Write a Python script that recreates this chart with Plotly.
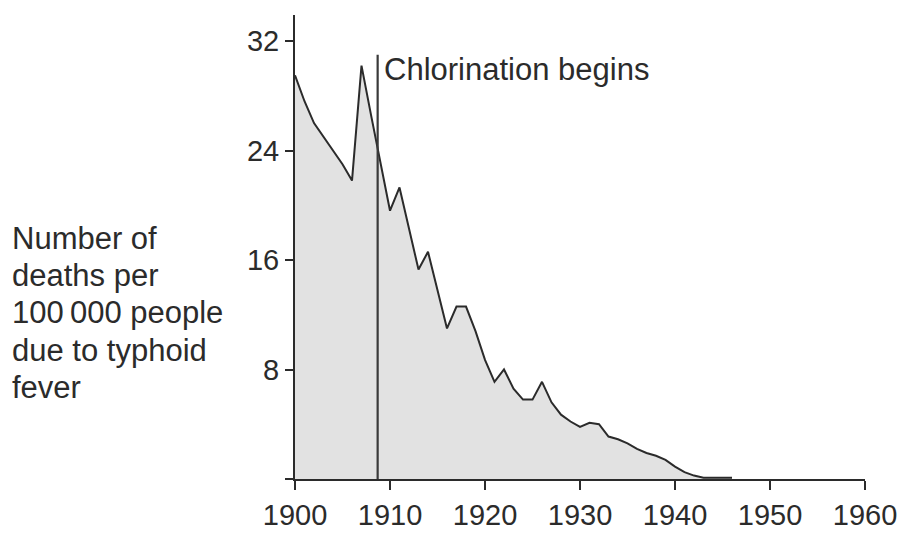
import plotly.graph_objects as go

years = list(range(1900, 1947))
deaths = [29.5, 27.6, 26.0, 25.0, 24.0, 23.0, 21.8, 30.2, 26.6, 23.2,
          19.6, 21.3, 18.3, 15.3, 16.6, 13.8, 11.0, 12.6, 12.6, 10.8,
          8.7, 7.1, 8.0, 6.6, 5.8, 5.8, 7.1, 5.6, 4.7, 4.2,
          3.8, 4.1, 4.0, 3.1, 2.9, 2.6, 2.2, 1.9, 1.7, 1.4,
          0.9, 0.5, 0.25, 0.1, 0.1, 0.1, 0.1]

x_ticks = [1900, 1910, 1920, 1930, 1940, 1950, 1960]
y_ticks = [0, 8, 16, 24, 32]
y_ticktext = ["", "8", "16", "24", "32"]

chlorination_year = 1908.7
chlorination_top = 31.0
y_label_lines = ["Number of", "deaths per", "100\u2009000 people", "due to typhoid", "fever"]

FONT = "Liberation Sans, Arial, sans-serif"
INK = "#2b2b2b"

W, H = 901, 533
ML, MR, MT, MB = 295, 36, 15, 54
plot_h = H - MT - MB
plot_w = W - ML - MR

fig = go.Figure()
fig.add_trace(go.Scatter(
    x=years, y=deaths, mode="lines", fill="tozeroy",
    fillcolor="#e2e2e2", line=dict(color=INK, width=2),
    hoverinfo="skip", showlegend=False, cliponaxis=False,
))

fig.add_shape(type="line", xref="x", yref="y",
              x0=chlorination_year, x1=chlorination_year, y0=0, y1=chlorination_top,
              line=dict(color="#3a3a3a", width=2.2))

fig.add_annotation(x=chlorination_year, y=29.9, xref="x", yref="y",
                   text="Chlorination begins", showarrow=False,
                   xanchor="left", yanchor="middle", xshift=4,
                   font=dict(family=FONT, size=31, color=INK))

# multi-line axis label, one line per annotation for exact spacing
line_step = 37.4
first_center = 238
for i, line in enumerate(y_label_lines):
    py = first_center + i * line_step
    fig.add_annotation(x=(10 - ML) / plot_w, y=(H - MB - py) / plot_h,
                       xref="paper", yref="paper", text=line, showarrow=False,
                       xanchor="left", yanchor="middle", align="left",
                       font=dict(family=FONT, size=31, color=INK))

fig.update_xaxes(range=[1900, 1960], tickvals=x_ticks, ticks="outside",
                 ticklen=9, tickwidth=1.5, tickcolor=INK,
                 showline=True, linecolor=INK, linewidth=2,
                 showgrid=False, zeroline=False, automargin=False,
                 tickfont=dict(family=FONT, size=29, color=INK))
fig.update_yaxes(range=[0, 33.9], tickvals=y_ticks, ticktext=y_ticktext,
                 ticks="outside", ticklen=8, tickwidth=1.5, tickcolor=INK,
                 showline=True, linecolor=INK, linewidth=2,
                 showgrid=False, zeroline=False, automargin=False,
                 tickfont=dict(family=FONT, size=29, color=INK))

fig.update_layout(width=W, height=H,
                  margin=dict(l=ML, r=MR, t=MT, b=MB, autoexpand=False),
                  plot_bgcolor="white", paper_bgcolor="white",
                  font=dict(family=FONT, color=INK))

fig.write_html("out.html", config={"displayModeBar": False},
               post_script="document.body.style.margin='0';document.body.style.overflow='hidden';")
